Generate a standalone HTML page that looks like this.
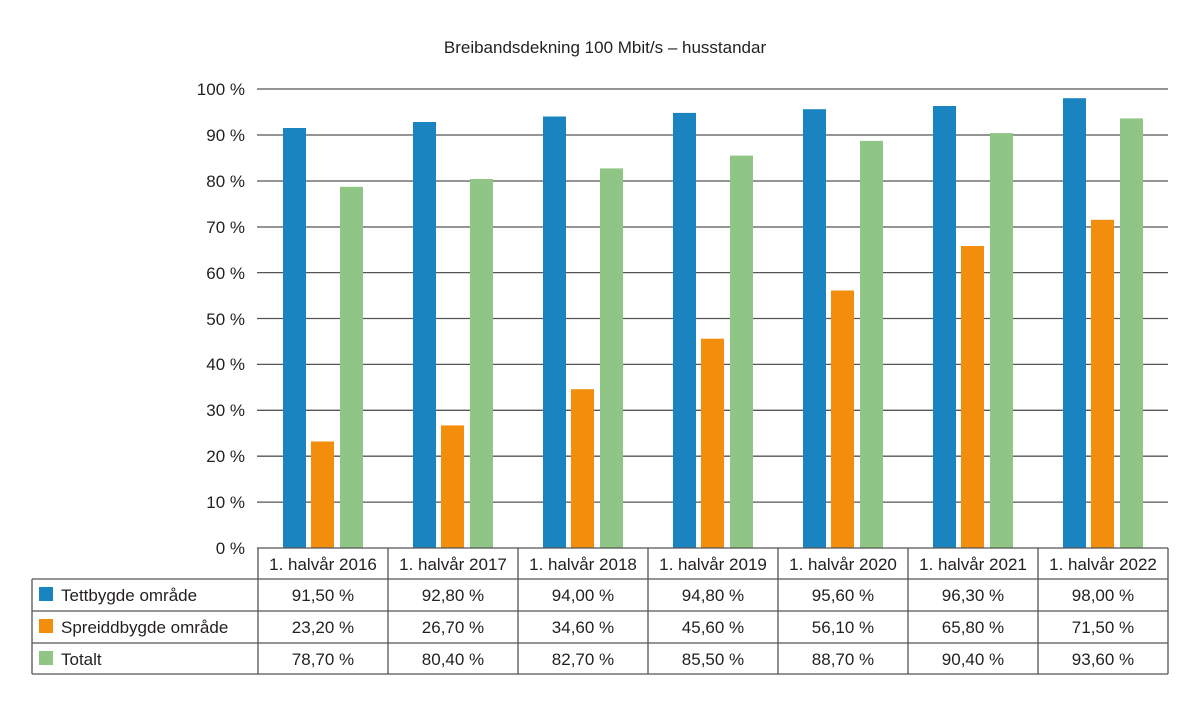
<!DOCTYPE html>
<html><head><meta charset="utf-8"><style>
body{margin:0;background:#fff;}
svg text{font-family:"Liberation Sans",sans-serif;fill:#231f20;}
</style></head><body>
<svg width="1200" height="709" viewBox="0 0 1200 709" xmlns="http://www.w3.org/2000/svg">
<text x="605" y="53" font-size="17" text-anchor="middle">Breibandsdekning 100 Mbit/s – husstandar</text>
<g stroke="#555" stroke-width="1.3">
<line x1="257" y1="89" x2="1168" y2="89"/><line x1="257" y1="135" x2="1168" y2="135"/>
<line x1="257" y1="181" x2="1168" y2="181"/><line x1="257" y1="227" x2="1168" y2="227"/>
<line x1="257" y1="272.6" x2="1168" y2="272.6"/><line x1="257" y1="318.5" x2="1168" y2="318.5"/>
<line x1="257" y1="364.4" x2="1168" y2="364.4"/><line x1="257" y1="410.3" x2="1168" y2="410.3"/>
<line x1="257" y1="456.2" x2="1168" y2="456.2"/><line x1="257" y1="502.1" x2="1168" y2="502.1"/>
</g>
<g font-size="17" text-anchor="end">
<text x="245" y="95">100 %</text><text x="245" y="141">90 %</text><text x="245" y="187">80 %</text>
<text x="245" y="233">70 %</text><text x="245" y="279">60 %</text><text x="245" y="325">50 %</text>
<text x="245" y="370">40 %</text><text x="245" y="416">30 %</text><text x="245" y="462">20 %</text>
<text x="245" y="508">10 %</text><text x="245" y="554">0 %</text>
</g>
<g fill="#1a84c1">
<rect x="283" y="128" width="23" height="420"/><rect x="413" y="122" width="23" height="426"/>
<rect x="543" y="116.5" width="23" height="431.5"/><rect x="673" y="112.9" width="23" height="435.1"/>
<rect x="803" y="109.2" width="23" height="438.8"/><rect x="933" y="106" width="23" height="442"/>
<rect x="1063" y="98.2" width="23" height="449.8"/>
</g>
<g fill="#f28e0c">
<rect x="311" y="441.5" width="23" height="106.5"/><rect x="441" y="425.4" width="23" height="122.6"/>
<rect x="571" y="389.2" width="23" height="158.8"/><rect x="701" y="338.7" width="23" height="209.3"/>
<rect x="831" y="290.5" width="23" height="257.5"/><rect x="961" y="246" width="23" height="302"/>
<rect x="1091" y="219.8" width="23" height="328.2"/>
</g>
<g fill="#90c685">
<rect x="340" y="186.8" width="23" height="361.2"/><rect x="470" y="179" width="23" height="369"/>
<rect x="600" y="168.4" width="23" height="379.6"/><rect x="730" y="155.6" width="23" height="392.4"/>
<rect x="860" y="140.9" width="23" height="407.1"/><rect x="990" y="133.1" width="23" height="414.9"/>
<rect x="1120" y="118.4" width="23" height="429.6"/>
</g>
<g stroke="#555" stroke-width="1.3" fill="none">
<line x1="257" y1="548" x2="1168" y2="548"/>
<line x1="32" y1="579" x2="1168" y2="579"/>
<line x1="32" y1="611" x2="1168" y2="611"/>
<line x1="32" y1="643" x2="1168" y2="643"/>
<line x1="32" y1="674" x2="1168" y2="674"/>
<line x1="32" y1="579" x2="32" y2="674"/>
<line x1="258" y1="548" x2="258" y2="674"/><line x1="388" y1="548" x2="388" y2="674"/>
<line x1="518" y1="548" x2="518" y2="674"/><line x1="648" y1="548" x2="648" y2="674"/>
<line x1="778" y1="548" x2="778" y2="674"/><line x1="908" y1="548" x2="908" y2="674"/>
<line x1="1038" y1="548" x2="1038" y2="674"/><line x1="1168" y1="548" x2="1168" y2="674"/>
</g>
<rect x="39" y="587" width="14" height="14" fill="#1a84c1"/>
<rect x="39" y="619" width="14" height="14" fill="#f28e0c"/>
<rect x="39" y="651" width="14" height="14" fill="#90c685"/>
<g font-size="17">
<text x="61" y="601">Tettbygde område</text>
<text x="61" y="633">Spreiddbygde område</text>
<text x="61" y="665">Totalt</text>
</g>
<g font-size="17" text-anchor="middle">
<text x="323" y="570">1. halvår 2016</text><text x="453" y="570">1. halvår 2017</text>
<text x="583" y="570">1. halvår 2018</text><text x="713" y="570">1. halvår 2019</text>
<text x="843" y="570">1. halvår 2020</text><text x="973" y="570">1. halvår 2021</text>
<text x="1103" y="570">1. halvår 2022</text>
<text x="323" y="601">91,50 %</text><text x="453" y="601">92,80 %</text><text x="583" y="601">94,00 %</text>
<text x="713" y="601">94,80 %</text><text x="843" y="601">95,60 %</text><text x="973" y="601">96,30 %</text>
<text x="1103" y="601">98,00 %</text>
<text x="323" y="633">23,20 %</text><text x="453" y="633">26,70 %</text><text x="583" y="633">34,60 %</text>
<text x="713" y="633">45,60 %</text><text x="843" y="633">56,10 %</text><text x="973" y="633">65,80 %</text>
<text x="1103" y="633">71,50 %</text>
<text x="323" y="665">78,70 %</text><text x="453" y="665">80,40 %</text><text x="583" y="665">82,70 %</text>
<text x="713" y="665">85,50 %</text><text x="843" y="665">88,70 %</text><text x="973" y="665">90,40 %</text>
<text x="1103" y="665">93,60 %</text>
</g>
</svg>
</body></html>
